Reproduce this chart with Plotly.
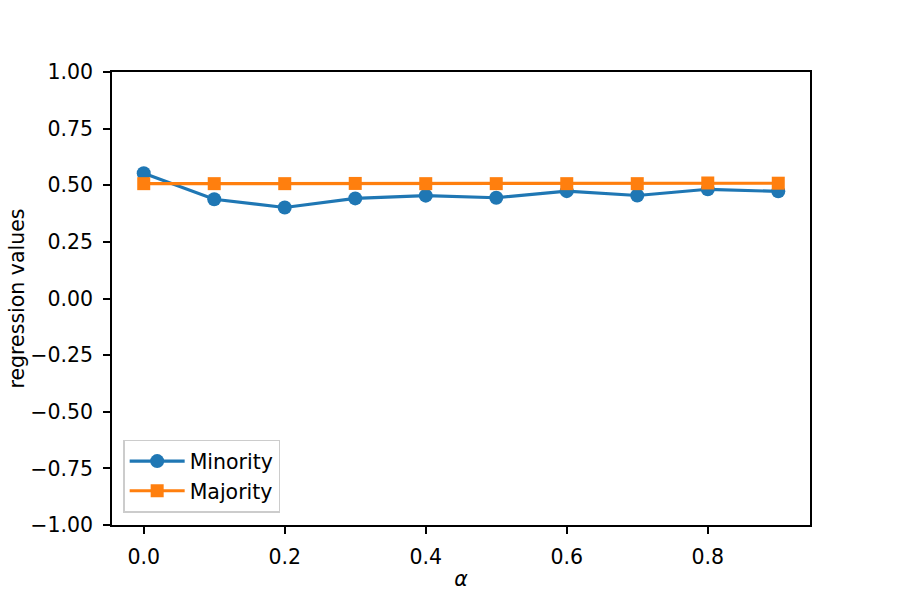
import plotly.graph_objects as go

alpha = [0.0, 0.1, 0.2, 0.3, 0.4, 0.5, 0.6, 0.7, 0.8, 0.9]
minority = [0.553, 0.438, 0.402, 0.442, 0.454, 0.445, 0.474, 0.455, 0.482, 0.473]
majority = [0.507, 0.507, 0.507, 0.508, 0.507, 0.507, 0.507, 0.507, 0.510, 0.509]

y_ticks = [-1.0, -0.75, -0.5, -0.25, 0.0, 0.25, 0.5, 0.75, 1.0]
x_ticks = [0.0, 0.2, 0.4, 0.6, 0.8]

FONT = "DejaVu Sans"
FS = 20.5

fig = go.Figure()
fig.add_trace(go.Scatter(
    x=alpha, y=minority, name="Minority", mode="lines+markers",
    line=dict(color="#1f77b4", width=3.1),
    marker=dict(symbol="circle", size=14, color="#1f77b4"),
))
fig.add_trace(go.Scatter(
    x=alpha, y=majority, name="Majority", mode="lines+markers",
    line=dict(color="#ff7f0e", width=3.1),
    marker=dict(symbol="square", size=13, color="#ff7f0e"),
))

axis_common = dict(
    showgrid=False, zeroline=False, showline=True, mirror=True,
    linecolor="black", linewidth=1.7,
    ticks="outside", ticklen=7, tickwidth=1.7, tickcolor="black",
    tickfont=dict(family=FONT, size=FS, color="black"),
    ticklabelstandoff=6, automargin=False,
)

fig.update_layout(
    width=900, height=600,
    paper_bgcolor="white", plot_bgcolor="white",
    margin=dict(l=112, r=90, t=72, b=75, pad=0),
    font=dict(family=FONT, size=FS, color="black"),
    xaxis=dict(
        range=[-0.045, 0.945], tickvals=x_ticks, tickformat=".1f",
        title=dict(text="<i>α</i>", font=dict(family=FONT, size=FS), standoff=3),
        **axis_common,
    ),
    yaxis=dict(
        range=[-1.0, 1.0], tickvals=y_ticks, tickformat=".2f",
        title=dict(text="regression values", font=dict(family=FONT, size=FS), standoff=0),
        **axis_common,
    ),
    legend=dict(
        x=0.016, y=0.027, xanchor="left", yanchor="bottom",
        bgcolor="rgba(255,255,255,0.8)", bordercolor="#cccccc", borderwidth=1.5,
        font=dict(family=FONT, size=FS), itemwidth=55,
        tracegroupgap=0,
    ),
    showlegend=True,
)

fig.write_html("out.html")
